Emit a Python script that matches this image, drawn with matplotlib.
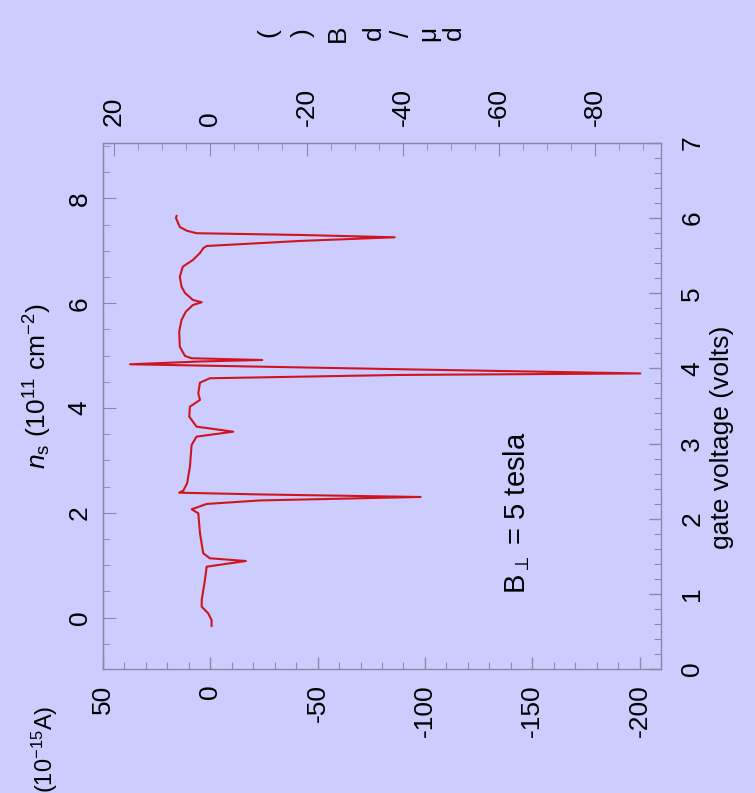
import numpy as np
import matplotlib
matplotlib.use("Agg")
import matplotlib.pyplot as plt

plt.rcParams['font.family'] = ['Liberation Sans', 'DejaVu Sans']
plt.rcParams['mathtext.fontset'] = 'custom'
plt.rcParams['mathtext.rm'] = 'Liberation Sans'
plt.rcParams['mathtext.it'] = 'Liberation Sans:italic'

### data: current (10^-15 A) against gate voltage (volts)
current = [-0.6, -0.6, 1.0, 4.0, 4.0, 2.5, 1.7, -16.6, 0.2, 3.3, 4.8, 5.6, 8.7, 1.7,
           -23.1, -98.0, -23.1, 14.5, 12.6, 10.8, 9.5, 8.7, 6.4, -10.7, 6.4, 9.8,
           9.5, 4.8, 5.6, 4.8, 0.2, -88.3, -200.4, -88.3, 37.4, 4.8, -24.2, 8.7,
           11.8, 14.2, 14.5, 13.4, 11.4, 8.1, 4.0, 8.1, 11.8, 13.4, 14.2, 12.8,
           8.1, 4.8, 3.3, 1.7, -41.7, -85.9, -41.7, 6.4, 11.0, 14.2, 16.0, 15.7]
gate_v = [0.572, 0.652, 0.741, 0.829, 0.918, 1.184, 1.361, 1.437, 1.473, 1.540,
          1.806, 2.072, 2.125, 2.196, 2.243, 2.289, 2.323, 2.346, 2.373, 2.471,
          2.692, 2.981, 3.092, 3.158, 3.225, 3.358, 3.491, 3.580, 3.669, 3.810,
          3.869, 3.913, 3.933, 3.989, 4.055, 4.092, 4.112, 4.135, 4.166, 4.289,
          4.489, 4.645, 4.755, 4.844, 4.880, 4.911, 5.004, 5.088, 5.221, 5.354,
          5.443, 5.536, 5.599, 5.629, 5.696, 5.745, 5.776, 5.799, 5.833, 5.882,
          6.002, 6.029]

bottom_ticks = [50, 0, -50, -100, -150, -200]
top_ticks = [20, 0, -20, -40, -60, -80]
left_ticks = [0, 2, 4, 6, 8]
right_ticks = [0, 1, 2, 3, 4, 5, 6, 7]

bg = '#CCCCFF'
frame = '#8A8AA8'
red = '#D0141E'
fs = 19

fig = plt.figure(figsize=(7.55, 7.93), dpi=100, facecolor=bg)
ax = fig.add_axes([0.1364, 0.1564, 0.7391, 0.6633], facecolor=bg)

ax.plot(current, gate_v, color=red, lw=1.5)
ax.set_xlim(50, -210)
ax.set_ylim(0, 7)

for s in ax.spines.values():
    s.set_color(frame)
    s.set_linewidth(1.0)

# bottom: current
ax.set_xticks(bottom_ticks)
ax.set_xticks(np.arange(-210, 51, 10), minor=True)
ax.set_xticklabels([str(t) for t in bottom_ticks], rotation=90)
# right: gate voltage
ax.yaxis.tick_right()
ax.set_yticks(right_ticks)
ax.set_yticks(np.arange(0, 7.01, 0.2), minor=True)
ax.set_yticklabels([str(t) for t in right_ticks], rotation=90, va='center')
ax.tick_params(axis='x', which='both', direction='in', colors=frame, labelcolor='black',
               labelsize=fs, pad=11)
ax.tick_params(axis='y', which='both', direction='in', colors=frame, labelcolor='black',
               labelsize=fs, pad=14)
ax.tick_params(which='major', length=9, width=1.0)
ax.tick_params(which='minor', length=5, width=0.8)

# left: n_s
def v2n(v):
    return -0.979 + 1.434 * v

def n2v(n):
    return (n + 0.979) / 1.434

sec_y = ax.secondary_yaxis('left', functions=(v2n, n2v))
sec_y.set_yticks(left_ticks)
sec_y.set_yticks(np.arange(-1, 9.1, 0.5), minor=True)
sec_y.set_yticklabels([str(t) for t in left_ticks], rotation=90, va='center')
sec_y.tick_params(which='both', direction='in', colors=frame, labelcolor='black',
                  labelsize=fs, pad=8)
sec_y.tick_params(which='major', length=9)
sec_y.tick_params(which='minor', length=5)
sec_y.spines['left'].set_color(frame)

# top: d mu / dB
def i2d(i):
    return 0.446 * i

def d2i(d):
    return d / 0.446

sec_x = ax.secondary_xaxis('top', functions=(i2d, d2i))
sec_x.set_xticks(top_ticks)
sec_x.set_xticks(np.arange(-95, 25, 5), minor=True)
sec_x.set_xticklabels([str(t) for t in top_ticks], rotation=90)
sec_x.tick_params(which='both', direction='in', colors=frame, labelcolor='black',
                  labelsize=fs, pad=12)
sec_x.tick_params(which='major', length=9)
sec_x.tick_params(which='minor', length=5)
sec_x.spines['top'].set_color(frame)

# labels
fig.text(38 / 755, 1 - 386 / 793, '$n$$_{\\rm s}$ (10$^{11}$ cm$^{-2}$)', rotation=90,
         ha='center', va='center', fontsize=fs)
fig.text(722 / 755, 1 - 437 / 793, 'gate voltage (volts)', rotation=90,
         ha='center', va='center', fontsize=fs)
fig.text(45 / 755, 1 - 706 / 793, '(10$^{-15}$A)', rotation=90,
         ha='center', va='top', fontsize=17)
ax.text(-142.5, 2.08, 'B$_{\\perp}$ = 5 tesla', rotation=90, ha='center', va='center',
        fontsize=21)

# top label, glyphs laid sideways as in the original
top_glyphs = ['(', ')', 'B', 'd', '/', '\u03bc', 'd']
top_glyph_x = [268, 303, 338, 374, 402, 428, 454]
for g, gx in zip(top_glyphs, top_glyph_x):
    fig.text(gx / 755, 1 - 33 / 793, g, rotation=90, ha='center', va='center', fontsize=fs)

fig.savefig('out.png', dpi=100, facecolor=bg)
